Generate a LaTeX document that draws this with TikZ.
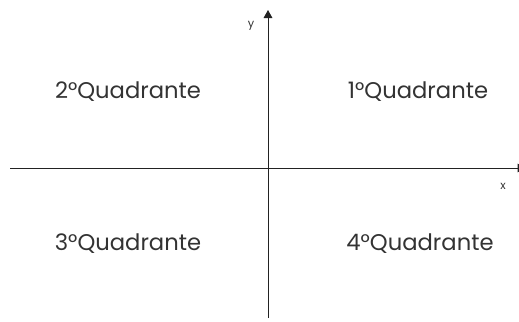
\documentclass[tikz,border=0pt]{standalone}
\usepackage{fontspec}
\setmainfont{Poppins}
\usetikzlibrary{arrows.meta}
\definecolor{axisgray}{HTML}{222222}
\definecolor{textgray}{HTML}{333333}

\begin{document}
\begin{tikzpicture}[x=0.75pt,y=-0.75pt,
    quadlabel/.style={text=textgray, font=\fontsize{17}{20}\selectfont, inner sep=0pt},
    axislabel/.style={text=textgray, font=\fontsize{8.5}{10}\selectfont, inner sep=0pt},
    axisline/.style={draw=axisgray, line width=0.75pt, -{Triangle[length=6pt,width=6.5pt]}}]
  \useasboundingbox (0,0) rectangle (519,322);
  % axes
  \coordinate (xstart) at (10,168);
  \coordinate (xend) at (525.5,168);
  \coordinate (ystart) at (268,318);
  \coordinate (yend) at (268,10);
  \draw[axisline] (xstart) -- (xend);
  \draw[axisline] (ystart) -- (yend);
  \node[axislabel] (ylabel) at (251,26) {y};
  \node[axislabel] (xlabel) at (503,186) {x};
  % quadrants
  \node[quadlabel] (q1) at (418,92) {1°Quadrante};
  \node[quadlabel] (q2) at (128,92) {2°Quadrante};
  \node[quadlabel] (q3) at (128,244) {3°Quadrante};
  \node[quadlabel] (q4) at (420,244) {4°Quadrante};
\end{tikzpicture}
\end{document}
